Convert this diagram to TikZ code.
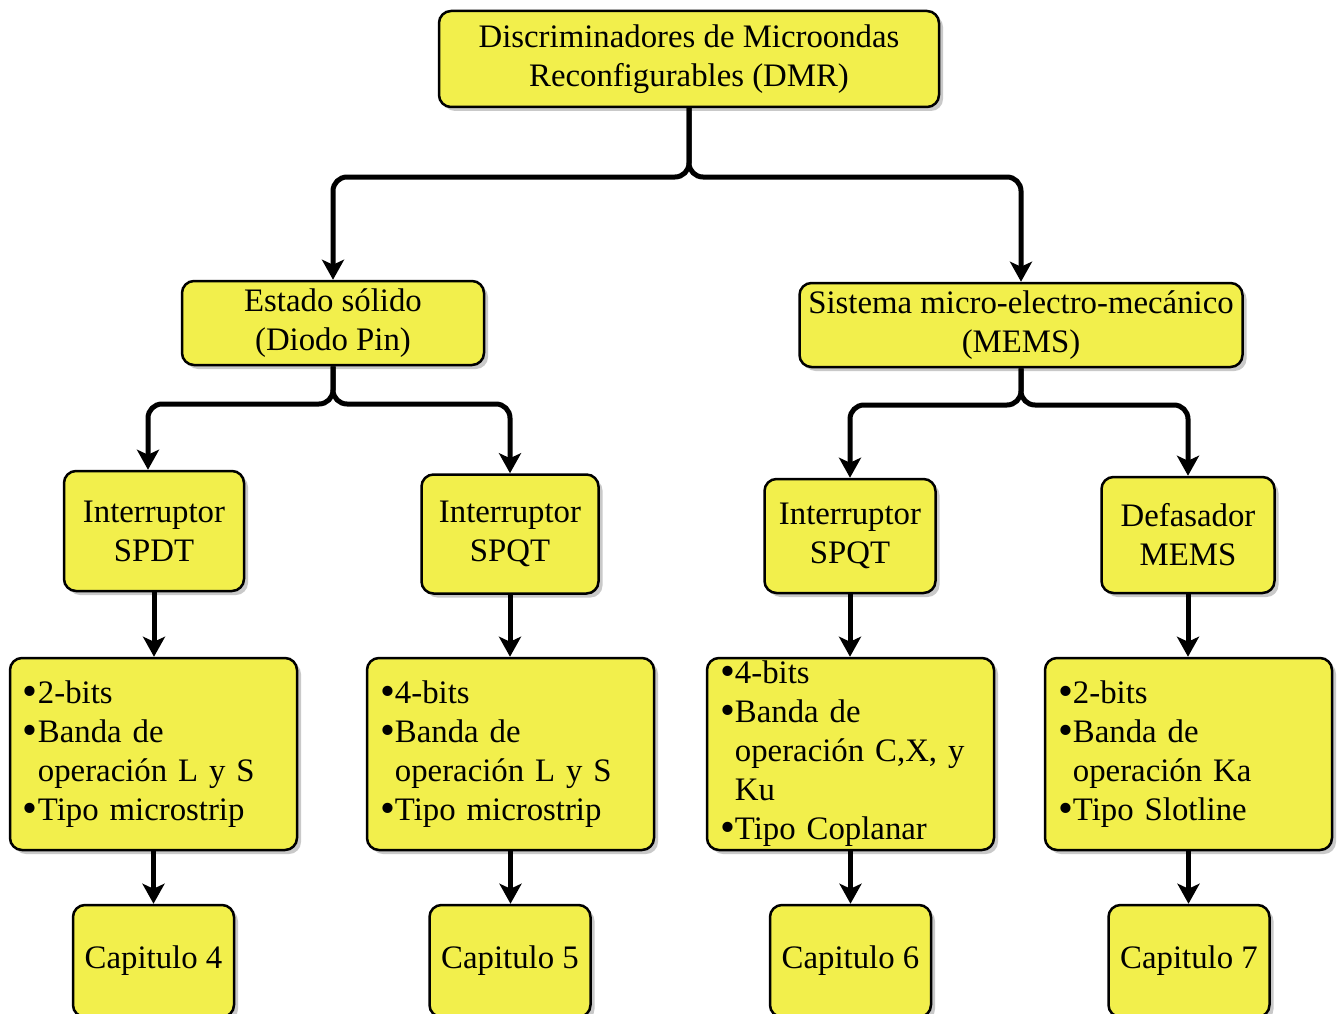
\documentclass[tikz,border=0pt]{standalone}
\usepackage{fontspec}
\setmainfont{Liberation Serif}
\newfontfamily\tms{Liberation Serif}
\usetikzlibrary{arrows.meta,shadows}
\definecolor{boxy}{RGB}{242,239,76}
\newcommand\bul{\raisebox{-2pt}{\scalebox{1.3}{•}}}
\newcommand\bulind{\hphantom{\scalebox{1.3}{•}}}
\begin{document}
\begin{tikzpicture}[x=1pt,y=-1pt,
 box/.style={draw=black, line width=2.5pt, fill=boxy, rounded corners=12pt, align=center, inner sep=0pt,
   font=\tms\fontsize{32.8}{39}\selectfont,
   drop shadow={shadow xshift=4pt, shadow yshift=-4pt, opacity=0.3, fill=black!70}},
 bullbox/.style={box, align=left, text width=261pt, inner xsep=13pt, minimum height=192pt},
 conn/.style={line width=5pt, rounded corners=14pt, -{Stealth[length=20pt,width=22pt,inset=5pt]}},
]
\useasboundingbox (0,0) rectangle (1338,1014);
\clip (0,0) rectangle (1338,1014);

\node[box, minimum width=500pt, minimum height=96pt] (top) at (689,59) {Discriminadores de Microondas\\Reconfigurables (DMR)};
\node[box, minimum width=302pt, minimum height=84pt] (est) at (333,323) {Estado sólido\\(Diodo Pin)};
\node[box, minimum width=443pt, minimum height=84pt] (mems) at (1021,325) {Sistema micro-electro-mecánico\\(MEMS)};

\node[box, minimum width=180pt, minimum height=120pt] (spdt) at (154,531) {Interruptor\\SPDT};
\node[box, minimum width=177pt, minimum height=119pt] (spqta) at (510,534) {Interruptor\\SPQT};
\node[box, minimum width=171pt, minimum height=114pt] (spqtb) at (850,536) {Interruptor\\SPQT};
\node[box, minimum width=173pt, minimum height=116pt] (def) at (1188,535) {Defasador\\MEMS};

\node[bullbox] (b1) at (153.5,754) {\bul 2-bits\\\bul Banda de\\\bulind operación L y S\\\bul Tipo microstrip};
\node[bullbox] (b2) at (510.5,754) {\bul 4-bits\\\bul Banda de\\\bulind operación L y S\\\bul Tipo microstrip};
\node[bullbox] (b3) at (850.5,754) {\bul 4-bits\\\bul Banda de\\\bulind operación C,X, y\\\bulind Ku\\\bul Tipo Coplanar};
\node[bullbox] (b4) at (1188.5,754) {\bul 2-bits\\\bul Banda de\\\bulind operación Ka\\\bul Tipo Slotline};

\node[box, minimum width=161pt, minimum height=112pt] (c4) at (153.5,961) {Capitulo 4};
\node[box, minimum width=161pt, minimum height=112pt] (c5) at (510,961) {Capitulo 5};
\node[box, minimum width=161pt, minimum height=112pt] (c6) at (850.5,961) {Capitulo 6};
\node[box, minimum width=161pt, minimum height=112pt] (c7) at (1189,961) {Capitulo 7};

\draw[conn] (top.south) -- (top.south |- 0,177) -| (est.north);
\draw[conn] (top.south) -- (top.south |- 0,177) -| (mems.north);
\draw[conn] (est.south) -- (est.south |- 0,404) -| ([xshift=-6pt]spdt.north);
\draw[conn] (est.south) -- (est.south |- 0,404) -| (spqta.north);
\draw[conn] (mems.south) -- (mems.south |- 0,405) -| (spqtb.north);
\draw[conn] (mems.south) -- (mems.south |- 0,405) -| (def.north);

\draw[conn] (spdt.south) -- (spdt.south |- b1.north);
\draw[conn] (spqta.south) -- (spqta.south |- b2.north);
\draw[conn] (spqtb.south) -- (spqtb.south |- b3.north);
\draw[conn] (def.south) -- (def.south |- b4.north);

\draw[conn] (b1.south) -- (b1.south |- c4.north);
\draw[conn] (b2.south) -- (b2.south |- c5.north);
\draw[conn] (b3.south) -- (b3.south |- c6.north);
\draw[conn] (b4.south) -- (b4.south |- c7.north);
\end{tikzpicture}
\end{document}
